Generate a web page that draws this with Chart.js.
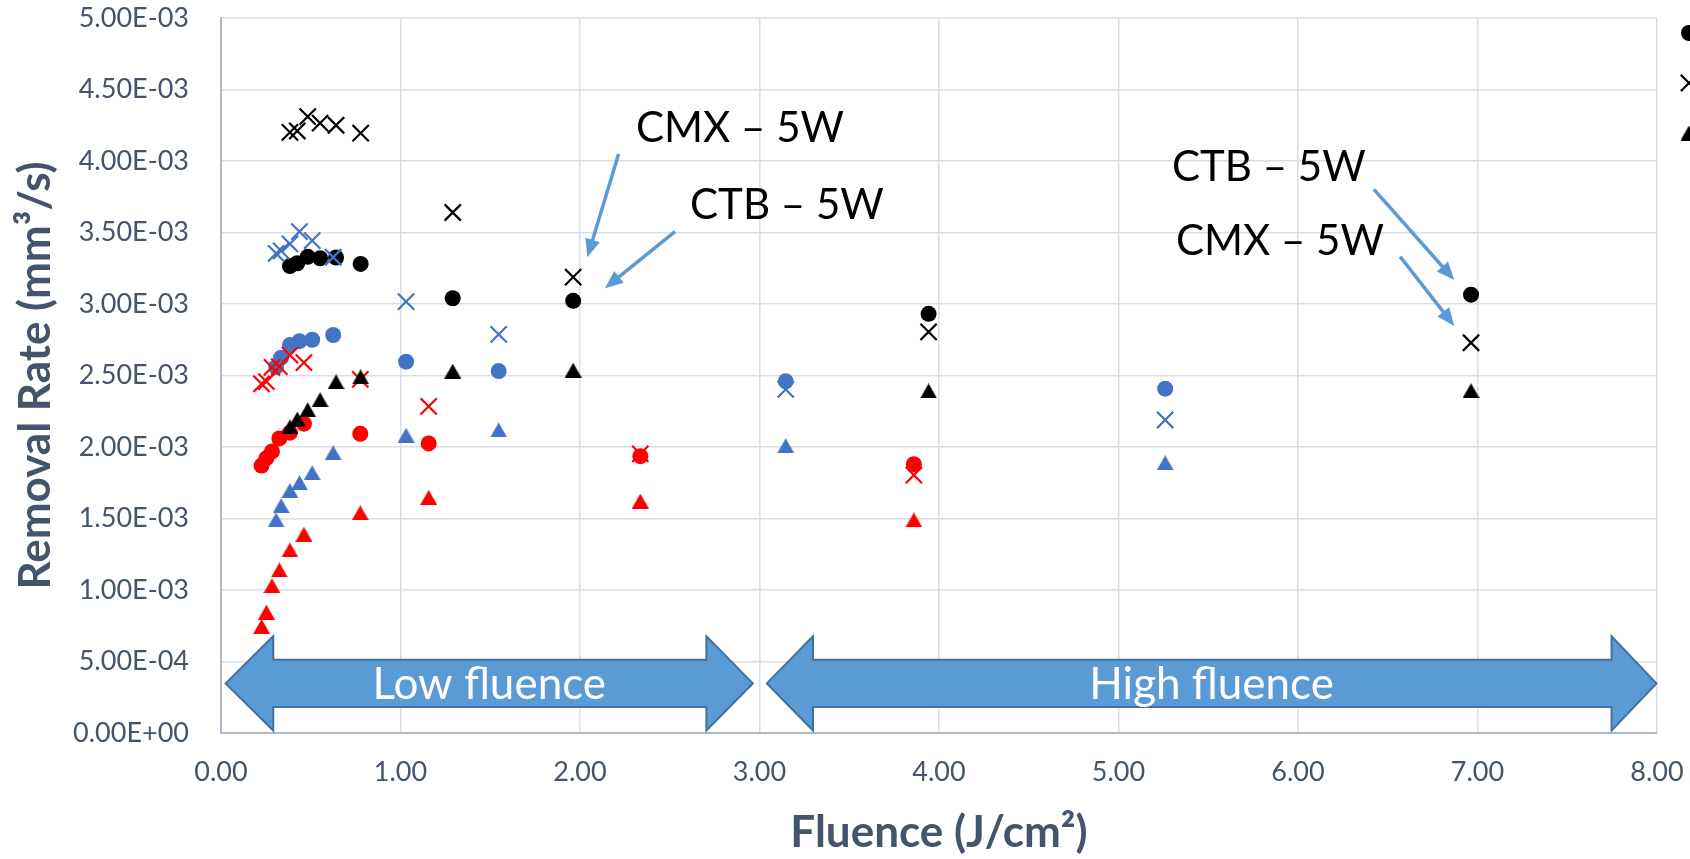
<!DOCTYPE html>
<html>
<head>
<meta charset="utf-8">
<script src="https://cdn.jsdelivr.net/npm/chart.js@4.4.1/dist/chart.umd.min.js"></script>
<style>
html,body{margin:0;padding:0;background:#fff;overflow:hidden;}
#wrap{position:relative;width:1690px;height:859px;}
canvas{display:block;}
</style>
</head>
<body>
<div id="wrap"><canvas id="c" width="1690" height="859"></canvas></div>
<script>
// ---- data (fluence in J/cm², removal rate in mm³/s) ----
const fluenceBlack = [0.384, 0.425, 0.483, 0.552, 0.641, 0.778, 1.291, 1.962, 3.942, 6.964];
const fluenceBlue  = [0.307, 0.335, 0.384, 0.437, 0.508, 0.625, 1.031, 1.547, 3.146, 5.260];
const fluenceRed   = [0.226, 0.253, 0.284, 0.325, 0.384, 0.462, 0.776, 1.157, 2.336, 3.860];

const blackCircle   = [3.265e-3, 3.285e-3, 3.330e-3, 3.320e-3, 3.325e-3, 3.280e-3, 3.040e-3, 3.022e-3, 2.931e-3, 3.065e-3];
const blackCross    = [4.200e-3, 4.210e-3, 4.310e-3, 4.265e-3, 4.250e-3, 4.195e-3, 3.640e-3, 3.188e-3, 2.805e-3, 2.729e-3];
const blackTriangle = [2.140e-3, 2.195e-3, 2.260e-3, 2.330e-3, 2.455e-3, 2.490e-3, 2.530e-3, 2.537e-3, 2.392e-3, 2.394e-3];
const blueCircle    = [2.560e-3, 2.625e-3, 2.713e-3, 2.740e-3, 2.750e-3, 2.783e-3, 2.597e-3, 2.531e-3, 2.459e-3, 2.408e-3];
const blueCross     = [3.354e-3, 3.371e-3, 3.420e-3, 3.506e-3, 3.443e-3, 3.327e-3, 3.016e-3, 2.788e-3, 2.403e-3, 2.189e-3];
const blueTriangle  = [1.490e-3, 1.590e-3, 1.695e-3, 1.750e-3, 1.820e-3, 1.960e-3, 2.083e-3, 2.119e-3, 2.009e-3, 1.890e-3];
const redCircle     = [1.870e-3, 1.922e-3, 1.969e-3, 2.060e-3, 2.100e-3, 2.163e-3, 2.092e-3, 2.025e-3, 1.936e-3, 1.880e-3];
const redCross      = [2.441e-3, 2.457e-3, 2.557e-3, 2.562e-3, 2.643e-3, 2.590e-3, 2.473e-3, 2.284e-3, 1.952e-3, 1.804e-3];
const redTriangle   = [0.745e-3, 0.845e-3, 1.030e-3, 1.140e-3, 1.280e-3, 1.390e-3, 1.540e-3, 1.648e-3, 1.622e-3, 1.490e-3];

const xTickValues = [0, 1, 2, 3, 4, 5, 6, 7, 8];
const yTickValues = [0, 0.5e-3, 1.0e-3, 1.5e-3, 2.0e-3, 2.5e-3, 3.0e-3, 3.5e-3, 4.0e-3, 4.5e-3, 5.0e-3];

const xTitle = 'Fluence (J/cm²)';
const yTitle = 'Removal Rate (mm³/s)';

// ---- styling ----
const BLACK = '#000000', BLUE = '#4472C4', RED = '#FF0000';
const TEXT = '#44546A';
const FONT = 'Lato, "Open Sans", sans-serif';

function triangleMarker(color) {
  const w = 17, h = 15;
  const c = document.createElement('canvas');
  c.width = w; c.height = h;
  const g = c.getContext('2d');
  g.fillStyle = color;
  g.beginPath(); g.moveTo(w / 2, 0); g.lineTo(w, h); g.lineTo(0, h); g.closePath(); g.fill();
  return c;
}

function pts(xs, ys) { return xs.map((x, i) => ({ x: x, y: ys[i] })); }

function series(label, xs, ys, color, shape, order) {
  const base = { label: label, data: pts(xs, ys), order: order, showLine: false,
    backgroundColor: color, borderColor: color, pointHoverRadius: 0 };
  if (shape === 'circle') return Object.assign(base, { pointStyle: 'circle', pointRadius: 8, pointBorderWidth: 0 });
  if (shape === 'cross') return Object.assign(base, { pointStyle: 'crossRot', pointRadius: 11.5, pointBorderWidth: 2.2 });
  return Object.assign(base, { pointStyle: triangleMarker(color), pointRadius: 8, pointBorderWidth: 0 });
}

function sci(v) {
  if (Math.abs(v) < 1e-15) return '0.00E+00';
  let e = Math.floor(Math.log10(Math.abs(v)) + 1e-9);
  let m = v / Math.pow(10, e);
  let ms = m.toFixed(2);
  if (ms === '10.00') { e += 1; ms = '1.00'; }
  const es = (e < 0 ? '-' : '+') + String(Math.abs(e)).padStart(2, '0');
  return ms + 'E' + es;
}

// ---- annotations (in data coordinates) ----
const calloutTexts = [
  { text: 'CMX – 5W', x: 2.312, y: 4.133e-3 },
  { text: 'CTB – 5W', x: 2.613, y: 3.594e-3 },
  { text: 'CTB – 5W', x: 5.298, y: 3.860e-3 },
  { text: 'CMX – 5W', x: 5.320, y: 3.343e-3 }
];
const calloutArrows = [
  { x0: 2.215, y0: 4.049e-3, x1: 2.041, y1: 3.327e-3 },
  { x0: 2.529, y0: 3.506e-3, x1: 2.139, y1: 3.110e-3 },
  { x0: 6.423, y0: 3.802e-3, x1: 6.871, y1: 3.168e-3 },
  { x0: 6.569, y0: 3.331e-3, x1: 6.871, y1: 2.846e-3 }
];
const rangeArrows = [
  { text: 'Low fluence',  x0: 0.026, n0: 0.291, n1: 2.704, x1: 2.963, yc: 0.347e-3, head: 0.330e-3, body: 0.166e-3 },
  { text: 'High fluence', x0: 3.041, n0: 3.298, n1: 7.747, x1: 7.997, yc: 0.347e-3, head: 0.330e-3, body: 0.166e-3 }
];

const annotationPlugin = {
  id: 'annotations',
  afterDatasetsDraw(chart) {
    const ctx = chart.ctx, xs = chart.scales.x, ys = chart.scales.y;
    const X = v => xs.getPixelForValue(v), Y = v => ys.getPixelForValue(v);
    ctx.save();
    // range double arrows
    rangeArrows.forEach(a => {
      const yc = Y(a.yc), ht = Y(a.yc + a.head), hb = Y(a.yc - a.head), bt = Y(a.yc + a.body), bb = Y(a.yc - a.body);
      ctx.beginPath();
      ctx.moveTo(X(a.x0), yc);
      ctx.lineTo(X(a.n0), ht); ctx.lineTo(X(a.n0), bt);
      ctx.lineTo(X(a.n1), bt); ctx.lineTo(X(a.n1), ht);
      ctx.lineTo(X(a.x1), yc);
      ctx.lineTo(X(a.n1), hb); ctx.lineTo(X(a.n1), bb);
      ctx.lineTo(X(a.n0), bb); ctx.lineTo(X(a.n0), hb);
      ctx.closePath();
      ctx.fillStyle = '#5B9BD5'; ctx.fill();
      ctx.strokeStyle = '#41719C'; ctx.lineWidth = 2; ctx.lineJoin = 'miter'; ctx.stroke();
      ctx.fillStyle = '#FFFFFF';
      ctx.font = '44px ' + FONT;
      ctx.textAlign = 'center'; ctx.textBaseline = 'alphabetic';
      ctx.fillText(a.text, (X(a.x0) + X(a.x1)) / 2, yc + 16);
    });
    // callout arrows
    calloutArrows.forEach(a => {
      const x0 = X(a.x0), y0 = Y(a.y0), x1 = X(a.x1), y1 = Y(a.y1);
      const ang = Math.atan2(y1 - y0, x1 - x0), L = 18, W = 7.5;
      const bx = x1 - Math.cos(ang) * L, by = y1 - Math.sin(ang) * L;
      ctx.strokeStyle = '#5B9BD5'; ctx.fillStyle = '#5B9BD5'; ctx.lineWidth = 3.5; ctx.lineCap = 'butt';
      ctx.beginPath(); ctx.moveTo(x0, y0); ctx.lineTo(bx + Math.cos(ang) * 2, by + Math.sin(ang) * 2); ctx.stroke();
      ctx.beginPath();
      ctx.moveTo(x1, y1);
      ctx.lineTo(bx + Math.sin(ang) * W, by - Math.cos(ang) * W);
      ctx.lineTo(bx - Math.sin(ang) * W, by + Math.cos(ang) * W);
      ctx.closePath(); ctx.fill();
    });
    // callout texts
    ctx.fillStyle = '#000000';
    ctx.font = '42px ' + FONT;
    ctx.textAlign = 'left'; ctx.textBaseline = 'alphabetic';
    calloutTexts.forEach(t => ctx.fillText(t.text, X(t.x), Y(t.y)));
    ctx.restore();
  }
};

// partially visible legend at the right edge (markers only)
const edgeLegendPlugin = {
  id: 'edgeLegend',
  afterDraw(chart) {
    const ctx = chart.ctx;
    const x = chart.chartArea.right + 32;
    const first = 33, step = 50;
    [0, 1, 2].forEach((i, k) => {
      const ds = chart.data.datasets[i];
      ctx.save();
      ctx.fillStyle = ds.backgroundColor; ctx.strokeStyle = ds.borderColor;
      ctx.lineWidth = ds.pointBorderWidth || 0.001;
      Chart.helpers.drawPoint(ctx, { pointStyle: ds.pointStyle, radius: ds.pointRadius, rotation: 0, borderWidth: ds.pointBorderWidth }, x, first + step * k);
      ctx.restore();
    });
  }
};

function build() {
  const datasets = [
    series('CTB – 5W', fluenceBlack, blackCircle, BLACK, 'circle', 9),
    series('CMX – 5W', fluenceBlack, blackCross, BLACK, 'cross', 8),
    series('▲ – 5W', fluenceBlack, blackTriangle, BLACK, 'triangle', 3),
    series('CTB – blue', fluenceBlue, blueCircle, BLUE, 'circle', 6),
    series('CMX – blue', fluenceBlue, blueCross, BLUE, 'cross', 7),
    series('▲ – blue', fluenceBlue, blueTriangle, BLUE, 'triangle', 2),
    series('CTB – red', fluenceRed, redCircle, RED, 'circle', 4),
    series('CMX – red', fluenceRed, redCross, RED, 'cross', 5),
    series('▲ – red', fluenceRed, redTriangle, RED, 'triangle', 1)
  ];

  new Chart(document.getElementById('c'), {
    type: 'scatter',
    data: { datasets: datasets },
    plugins: [annotationPlugin, edgeLegendPlugin],
    options: {
      responsive: false,
      animation: false,
      devicePixelRatio: 1,
      layout: { padding: { left: 0, top: 18, right: 33, bottom: 0 } },
      plugins: { legend: { display: false }, tooltip: { enabled: false } },
      scales: {
        x: {
          type: 'linear', min: 0, max: 8,
          afterBuildTicks: s => { s.ticks = xTickValues.map(v => ({ value: v })); },
          afterFit: s => { s.height = 126; s.paddingLeft = 0; s.paddingRight = 0; },
          ticks: { callback: v => Number(v).toFixed(2), color: TEXT, font: { family: FONT, size: 27 }, padding: 23, maxRotation: 0, autoSkip: false },
          grid: { color: '#D9DEE6', lineWidth: 1.5, drawTicks: false },
          border: { color: '#ADB9CA', width: 2 },
          title: { display: true, text: xTitle, color: TEXT, font: { family: FONT, size: 44, weight: 'bold' }, padding: { top: 2, bottom: 0 } }
        },
        y: {
          type: 'linear', min: 0, max: 5e-3,
          afterBuildTicks: s => { s.ticks = yTickValues.map(v => ({ value: v })); },
          afterFit: s => { s.width = 221; s.paddingTop = 0; s.paddingBottom = 0; },
          ticks: { callback: v => sci(v), color: TEXT, font: { family: FONT, size: 27 }, padding: 32, autoSkip: false },
          grid: { color: '#D9DEE6', lineWidth: 1.5, drawTicks: false },
          border: { color: '#ADB9CA', width: 2 },
          title: { display: true, text: yTitle, color: TEXT, font: { family: FONT, size: 44, weight: 'bold' }, padding: { top: 9, bottom: 0 } }
        }
      }
    }
  });
}

if (document.fonts && document.fonts.load) {
  Promise.all([document.fonts.load('27px Lato'), document.fonts.load('bold 44px Lato')]).then(build, build);
} else { build(); }
</script>
</body>
</html>
